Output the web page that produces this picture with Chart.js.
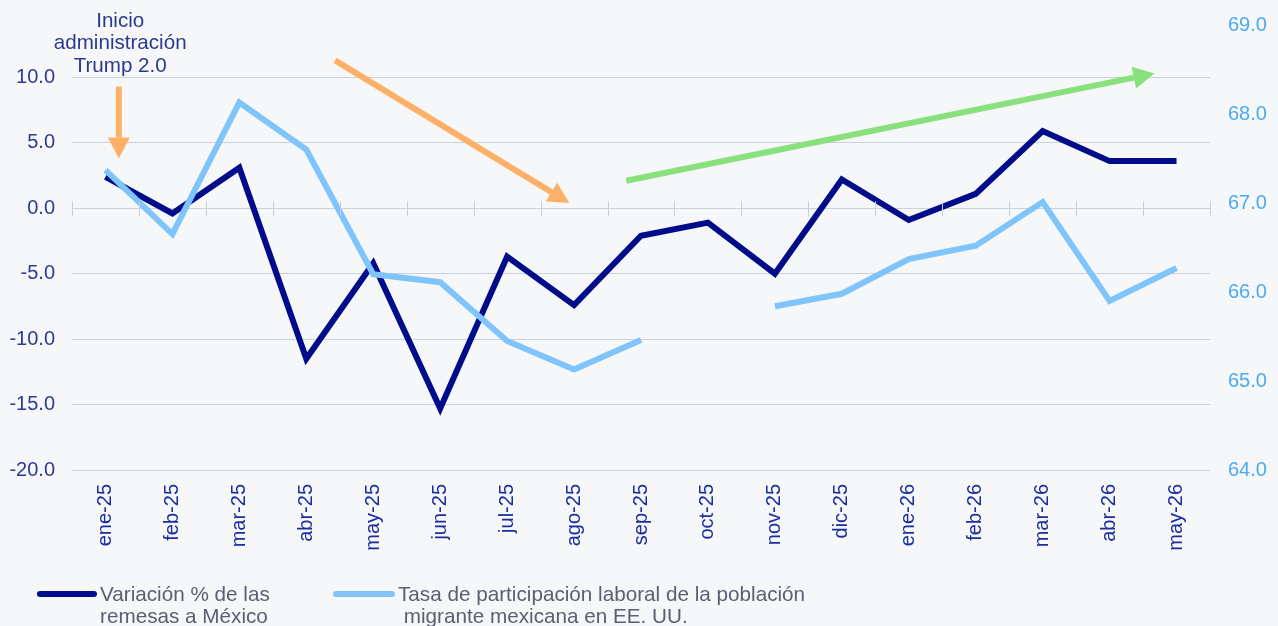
<!DOCTYPE html>
<html>
<head>
<meta charset="utf-8">
<script src="https://cdn.jsdelivr.net/npm/chart.js@4"></script>
<style>
  html, body { margin: 0; padding: 0; background: #f6f7f8; }
  #wrap { position: relative; width: 1278px; height: 626px; }
  #chart { position: absolute; left: 0; top: 0; }
  .legend { position: absolute; top: 583px; font-family: "Liberation Sans", Arial, sans-serif;
            font-size: 20.7px; line-height: 22px; color: #5a6072; }
  .legend .swatch { position: absolute; top: 8px; height: 6px; border-radius: 3px; }
</style>
</head>
<body>
<div id="wrap">
  <canvas id="chart" width="1278" height="626"></canvas>
  <div class="legend" style="left:37px">
    <span class="swatch" style="left:0;width:60px;background:#000c8a"></span>
    <div style="margin-left:63px">Variación % de las<br>remesas a México</div>
  </div>
  <div class="legend" style="left:333px">
    <span class="swatch" style="left:0;width:62px;background:#80c4fc"></span>
    <div style="margin-left:65px">Tasa de participación laboral de la población<br>&nbsp;migrante mexicana en EE. UU.</div>
  </div>
</div>
<script>
const categories = ["ene-25", "feb-25", "mar-25", "abr-25", "may-25", "jun-25", "jul-25", "ago-25", "sep-25",
  "oct-25", "nov-25", "dic-25", "ene-26", "feb-26", "mar-26", "abr-26", "may-26"];
const remesas = [2.4, -0.4, 3.1, -11.5, -4.2, -15.3, -3.7, -7.4, -2.1, -1.1, -5.0, 2.2, -0.9, 1.1, 5.9, 3.6, 3.6];
const participacion = [67.37, 66.65, 68.13, 67.6, 66.2, 66.11, 65.45, 65.13, 65.46, null, 65.84, 65.98, 66.37,
  66.52, 67.01, 65.9, 66.27];
const leftTicks = [-20, -15, -10, -5, 0, 5, 10];
const rightTicks = [64, 65, 66, 67, 68, 69];

const FONT = "'Liberation Sans', Arial, sans-serif";

function arrow(ctx, x1, y1, x2, y2, color) {
  const ang = Math.atan2(y2 - y1, x2 - x1);
  const head = 21, half = 11;
  const bx = x2 - head * Math.cos(ang), by = y2 - head * Math.sin(ang);
  ctx.save();
  ctx.strokeStyle = color;
  ctx.fillStyle = color;
  ctx.lineWidth = 6;
  ctx.beginPath();
  ctx.moveTo(x1, y1);
  ctx.lineTo(bx, by);
  ctx.stroke();
  ctx.beginPath();
  ctx.moveTo(x2, y2);
  ctx.lineTo(bx + half * Math.sin(ang), by - half * Math.cos(ang));
  ctx.lineTo(bx - half * Math.sin(ang), by + half * Math.cos(ang));
  ctx.closePath();
  ctx.fill();
  ctx.restore();
}

// zero line tick marks + annotations
const extras = {
  id: "extras",
  afterDraw(chart) {
    const { ctx, scales } = chart;
    const x = scales.x, y = scales.y;
    const step = (x.right - x.left) / categories.length;
    const px = (i) => x.getPixelForValue(0) + i * step;
    const y0 = y.getPixelForValue(0);

    ctx.save();
    ctx.strokeStyle = "#cdd0dc";
    ctx.lineWidth = 1;
    for (let i = 0; i <= categories.length; i++) {
      const xx = Math.round(x.left + i * step) + 0.5;
      ctx.beginPath();
      ctx.moveTo(xx, y0 - 7);
      ctx.lineTo(xx, y0 + 8);
      ctx.stroke();
    }
    ctx.restore();

    arrow(ctx, px(0.2), y.getPixelForValue(9.3), px(0.2), y.getPixelForValue(3.8), "#fdb168");
    arrow(ctx, px(3.43), y.getPixelForValue(11.3), px(6.93), y.getPixelForValue(0.4), "#fdb168");
    arrow(ctx, px(7.78), y.getPixelForValue(2.1), px(15.67), y.getPixelForValue(10.3), "#88e17d");

    ctx.save();
    ctx.fillStyle = "#2b3a8f";
    ctx.font = "20.6px " + FONT;
    ctx.textAlign = "center";
    ctx.textBaseline = "middle";
    const tx = px(0.22);
    ctx.fillText("Inicio", tx, y.getPixelForValue(14.3));
    ctx.fillText("administración", tx, y.getPixelForValue(12.6));
    ctx.fillText("Trump 2.0", tx, y.getPixelForValue(10.85));
    ctx.restore();
  }
};

new Chart(document.getElementById("chart"), {
  type: "line",
  data: {
    labels: categories,
    datasets: [
      {
        label: "Variación % de las remesas a México",
        data: remesas,
        yAxisID: "y",
        borderColor: "#000c8a",
        borderWidth: 6,
        pointRadius: 0,
        tension: 0,
        order: 1,
      },
      {
        label: "Tasa de participación laboral de la población migrante mexicana en EE. UU.",
        data: participacion,
        yAxisID: "y2",
        borderColor: "#80c4fc",
        borderWidth: 6,
        pointRadius: 0,
        tension: 0,
        spanGaps: false,
        order: 0,
      },
    ],
  },
  options: {
    responsive: false,
    animation: false,
    layout: { padding: { top: 25, bottom: 76, left: 0, right: 0 } },
    plugins: {
      legend: { display: false },
      tooltip: { enabled: false },
    },
    scales: {
      x: {
        offset: true,
        grid: { display: false },
        border: { display: false },
        ticks: {
          color: "#1c2da0",
          font: { family: FONT, size: 20 },
          minRotation: 90,
          maxRotation: 90,
          padding: 6,
          autoSkip: false,
        },
        afterFit: (s) => { s.height = 80; s.paddingLeft = 0; s.paddingRight = 0; },
      },
      y: {
        position: "left",
        min: -20,
        max: 14,
        afterBuildTicks: (s) => { s.ticks = leftTicks.map((v) => ({ value: v })); },
        grid: { color: "#cdd0dc", lineWidth: 1, drawTicks: false },
        border: { display: false },
        ticks: {
          color: "#2e3a94",
          font: { family: FONT, size: 20 },
          padding: 17,
          callback: (v) => Number(v).toFixed(1),
        },
        afterFit: (s) => { s.width = 72; s.paddingTop = 0; s.paddingBottom = 0; },
      },
      y2: {
        position: "right",
        min: 64,
        max: 69,
        afterBuildTicks: (s) => { s.ticks = rightTicks.map((v) => ({ value: v })); },
        grid: { display: false, drawTicks: false },
        border: { display: false },
        ticks: {
          color: "#4aabf3",
          font: { family: FONT, size: 20 },
          padding: 18,
          callback: (v) => Number(v).toFixed(1),
        },
        afterFit: (s) => { s.width = 68; s.paddingTop = 0; s.paddingBottom = 0; },
      },
    },
  },
  plugins: [extras],
});
</script>
</body>
</html>
